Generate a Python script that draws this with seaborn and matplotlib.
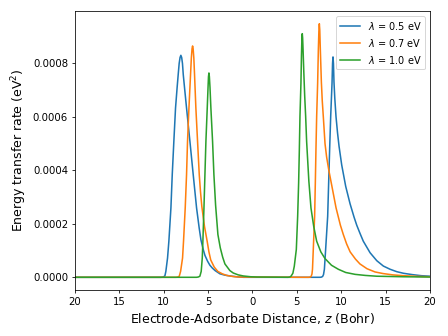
import numpy as np
import pandas as pd
import matplotlib
matplotlib.use("Agg")
import matplotlib.pyplot as plt
import seaborn as sns
from matplotlib.ticker import FuncFormatter, FormatStrFormatter

labels = [r"$\lambda$ = 0.5 eV", r"$\lambda$ = 0.7 eV", r"$\lambda$ = 1.0 eV"]
colors = ["#1f77b4", "#ff7f0e", "#2ca02c"]

# z in Bohr, rate in units of 1e-4 eV^2
z_05 = [-20, -10.3, -10.05, -9.86, -9.75, -9.56, -9.41, -9.18, -9.03, -8.85, -8.66, -8.48, -8.36,
        -8.25, -8.15, -8.06, -7.97, -7.88, -7.79, -7.62, -7.42, -7.04, -6.67, -6.29, -6.0, -5.80,
        -5.55, -5.35, -5.05, -4.79, -4.50, -4.20, -3.66, -3.1, -2.54, -1.8, -1.0,
        7.6, 7.75, 7.9, 8.0, 8.1, 8.24, 8.47, 8.58, 8.69, 8.81, 8.96, 9.02, 9.07, 9.12, 9.18,
        9.27, 9.41, 9.58, 9.75, 10.05, 10.5, 10.99, 11.44, 11.74, 12.1, 12.48, 13.24, 14.0, 14.74,
        15.5, 16.25, 17.0, 18.0, 19.0, 20]
r_05 = [0, 0, 0.01, 0.05, 0.22, 0.72, 1.35, 2.59, 3.84, 5.08, 6.33, 7.1, 7.58,
        8.0, 8.22, 8.30, 8.22, 8.0, 7.58, 7.0, 6.33, 5.08, 3.84, 2.59, 1.85, 1.4,
        1.05, 0.82, 0.6, 0.45, 0.34, 0.25, 0.13, 0.08, 0.05, 0.02, 0.0,
        0, 0.005, 0.03, 0.1, 0.3, 1.04, 2.28, 3.53, 4.77, 6.02, 7.26, 8.0, 8.24, 8.0, 7.3,
        6.7, 6.0, 5.4, 4.9, 4.2, 3.4, 2.75, 2.25, 1.95, 1.65, 1.35, 0.92, 0.62, 0.42,
        0.3, 0.21, 0.15, 0.1, 0.06, 0.04]

z_07 = [-20, -8.6, -8.4, -8.24, -8.09, -7.87, -7.76, -7.57, -7.42, -7.31, -7.15, -6.97, -6.88,
        -6.80, -6.74, -6.68, -6.60, -6.52, -6.37, -6.18, -5.99, -5.85, -5.7, -5.4, -5.1, -4.9,
        -4.7, -4.3, -3.9, -3.4, -2.9, -2.2, -1.5,
        6.3, 6.5, 6.6, 6.7, 6.76, 6.85, 7.00, 7.08, 7.15, 7.23, 7.34, 7.42, 7.48, 7.53, 7.58,
        7.64, 7.76, 7.86, 7.98, 8.17, 8.35, 8.6, 8.92, 9.41, 9.9, 10.23, 10.6, 11.0, 11.6, 12.1,
        12.9, 13.8, 14.7, 15.8, 17.0, 18.5, 20]
r_07 = [0, 0, 0.01, 0.04, 0.22, 0.72, 1.35, 2.59, 3.84, 5.08, 6.33, 7.58, 8.2,
        8.55, 8.65, 8.55, 8.2, 7.58, 6.33, 5.08, 3.84, 3.2, 2.65, 1.9, 1.35, 0.95,
        0.65, 0.38, 0.22, 0.13, 0.07, 0.03, 0.01,
        0, 0.01, 0.03, 0.12, 0.3, 1.04, 2.28, 3.53, 4.77, 6.02, 7.26, 8.51, 9.2, 9.48, 9.25,
        8.55, 7.3, 6.6, 6.0, 5.0, 4.5, 4.0, 3.45, 2.6, 1.95, 1.6, 1.25, 0.95, 0.68, 0.5,
        0.32, 0.2, 0.14, 0.09, 0.06, 0.035, 0.02]

z_10 = [-20, -6.3, -6.1, -5.92, -5.77, -5.65, -5.58, -5.46, -5.35, -5.24, -5.09, -5.0, -4.95,
        -4.90, -4.85, -4.78, -4.68, -4.49, -4.34, -4.15, -3.89, -3.62, -3.35, -3.10, -2.54, -2.16,
        -1.6, -1.04, -0.2, 0.5,
        4.0, 4.2, 4.34, 4.55, 4.71, 4.94, 5.09, 5.20, 5.28, 5.35, 5.46, 5.52, 5.57, 5.61, 5.65,
        5.70, 5.78, 5.88, 5.99, 6.1, 6.35, 6.59, 6.9, 7.23, 7.7, 8.17, 8.9, 9.67, 10.5, 11.55,
        12.7, 14.0, 17.0, 20]
r_10 = [0, 0, 0.01, 0.04, 0.22, 0.72, 1.35, 2.59, 3.84, 5.08, 6.33, 7.1, 7.5,
        7.64, 7.5, 7.1, 6.33, 5.08, 3.84, 2.7, 1.6, 1.1, 0.75, 0.5, 0.25, 0.16,
        0.09, 0.05, 0.02, 0.01,
        0, 0.01, 0.04, 0.15, 0.41, 1.04, 2.28, 3.53, 4.77, 6.02, 7.26, 8.3, 8.95, 9.11, 8.95,
        8.5, 7.7, 6.8, 6.02, 5.08, 3.6, 2.59, 1.9, 1.35, 0.95, 0.7, 0.45, 0.3, 0.18, 0.11,
        0.07, 0.04, 0.02, 0.01]

x_ticks = [-20, -15, -10, -5, 0, 5, 10, 15, 20]

frames = []
for lab, zz, rr in zip(labels, [z_05, z_07, z_10], [r_05, r_07, r_10]):
    frames.append(pd.DataFrame({"z": zz, "rate": np.array(rr) * 1e-4, "label": lab}))
df = pd.concat(frames, ignore_index=True)

plt.rcParams["font.family"] = ["DejaVu Sans"]
fig, ax = plt.subplots(figsize=(6.4, 4.8), dpi=70)
sns.lineplot(data=df, x="z", y="rate", hue="label", palette=colors,
             estimator=None, sort=False, linewidth=1.6, ax=ax)
ax.set_xlim(-20, 20)
ax.set_xticks(x_ticks)
ax.xaxis.set_major_formatter(FuncFormatter(lambda v, p: f"{abs(int(round(v)))}"))
ax.yaxis.set_major_formatter(FormatStrFormatter("%.4f"))
ax.set_xlabel("Electrode-Adsorbate Distance, $z$ (Bohr)", fontsize=12.8)
ax.set_ylabel("Energy transfer rate (eV$^2$)", fontsize=12.8)
ax.tick_params(labelsize=10.4)
sns.move_legend(ax, "upper right", title=None, fontsize=10)
fig.subplots_adjust(left=0.167, right=0.96, top=0.967, bottom=0.137)
fig.savefig("out.png", dpi=70)
